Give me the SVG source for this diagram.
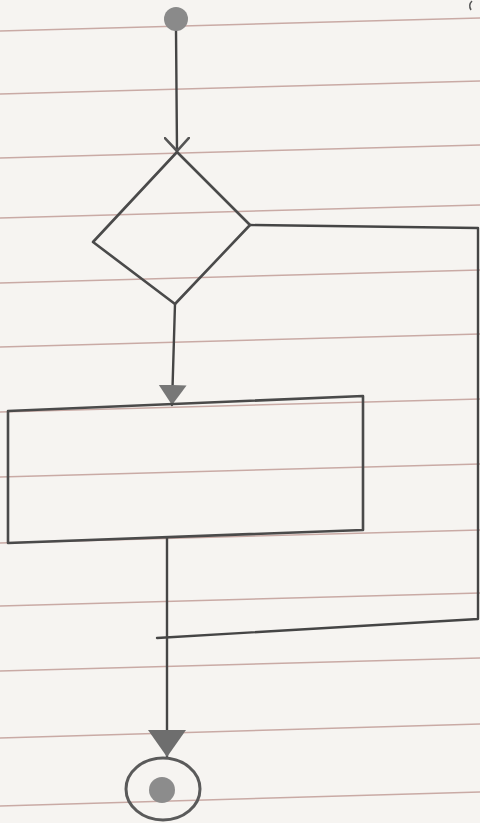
<svg xmlns="http://www.w3.org/2000/svg" width="480" height="823" viewBox="0 0 480 823">
  <style>
    .rule { stroke: #c9aaa5; stroke-width: 1.5; fill: none; }
    .pencil { stroke: #4a4a4a; stroke-width: 2.6; fill: none; stroke-linejoin: round; stroke-linecap: round; }
    .conn { stroke: #454545; stroke-width: 2.4; fill: none; stroke-linejoin: round; stroke-linecap: round; }
  </style>
  <defs>
    <marker id="open" viewBox="0 0 16 26" refX="14" refY="13" markerWidth="16" markerHeight="26" markerUnits="userSpaceOnUse" orient="auto">
      <path d="M1,1 L14,13 L1,25" fill="none" stroke="#555" stroke-width="2.6" stroke-linecap="round"/>
    </marker>
    <marker id="tri" viewBox="0 0 20 30" refX="20" refY="15" markerWidth="20" markerHeight="30" markerUnits="userSpaceOnUse" orient="auto">
      <path d="M0,1 L20,15 L0,29 Z" fill="#777"/>
    </marker>
    <marker id="triBig" viewBox="0 0 28 40" refX="27" refY="20" markerWidth="28" markerHeight="40" markerUnits="userSpaceOnUse" orient="auto">
      <path d="M0,1 L27,20 L0,39 Z" fill="#6e6e6e"/>
    </marker>
  </defs>
  <rect x="0" y="0" width="480" height="823" fill="#f6f4f1"/>
  <g id="paper">
    <line class="rule" x1="0" y1="31" x2="480" y2="18"/>
    <line class="rule" x1="0" y1="94" x2="480" y2="81"/>
    <line class="rule" x1="0" y1="158" x2="480" y2="145"/>
    <line class="rule" x1="0" y1="218" x2="480" y2="205"/>
    <line class="rule" x1="0" y1="283" x2="480" y2="270"/>
    <line class="rule" x1="0" y1="347" x2="480" y2="334"/>
    <line class="rule" x1="0" y1="412" x2="480" y2="399"/>
    <line class="rule" x1="0" y1="477" x2="480" y2="464"/>
    <line class="rule" x1="0" y1="543" x2="480" y2="530"/>
    <line class="rule" x1="0" y1="606" x2="480" y2="593"/>
    <line class="rule" x1="0" y1="671" x2="480" y2="658"/>
    <line class="rule" x1="0" y1="738" x2="480" y2="724"/>
    <line class="rule" x1="0" y1="806" x2="480" y2="792"/>
    <path d="M472,1 Q468,5 471,10" stroke="#555" stroke-width="1.5" fill="none"/>
  </g>
  <g id="connectors">
    <path class="conn" d="M176,30 L177,151" marker-end="url(#open)"/>
    <path class="conn" d="M175,304 L172,405" marker-end="url(#tri)"/>
    <path class="conn" d="M250,225 L478,228 L478,619 L157,638"/>
    <path class="conn" d="M167,538 L167,757" marker-end="url(#triBig)"/>
  </g>
  <g id="start">
    <circle cx="176" cy="19" r="12" fill="#8a8a8a"/>
  </g>
  <g id="decision">
    <polygon class="pencil" points="177,152 250,225 175,304 93,242"/>
  </g>
  <g id="action">
    <polygon class="pencil" points="8,411 363,396 363,530 8,543"/>
  </g>
  <g id="end">
    <ellipse cx="163" cy="789" rx="37" ry="31" fill="none" stroke="#5a5a5a" stroke-width="3"/>
    <circle cx="162" cy="790" r="13" fill="#8c8c8c"/>
  </g>
</svg>
